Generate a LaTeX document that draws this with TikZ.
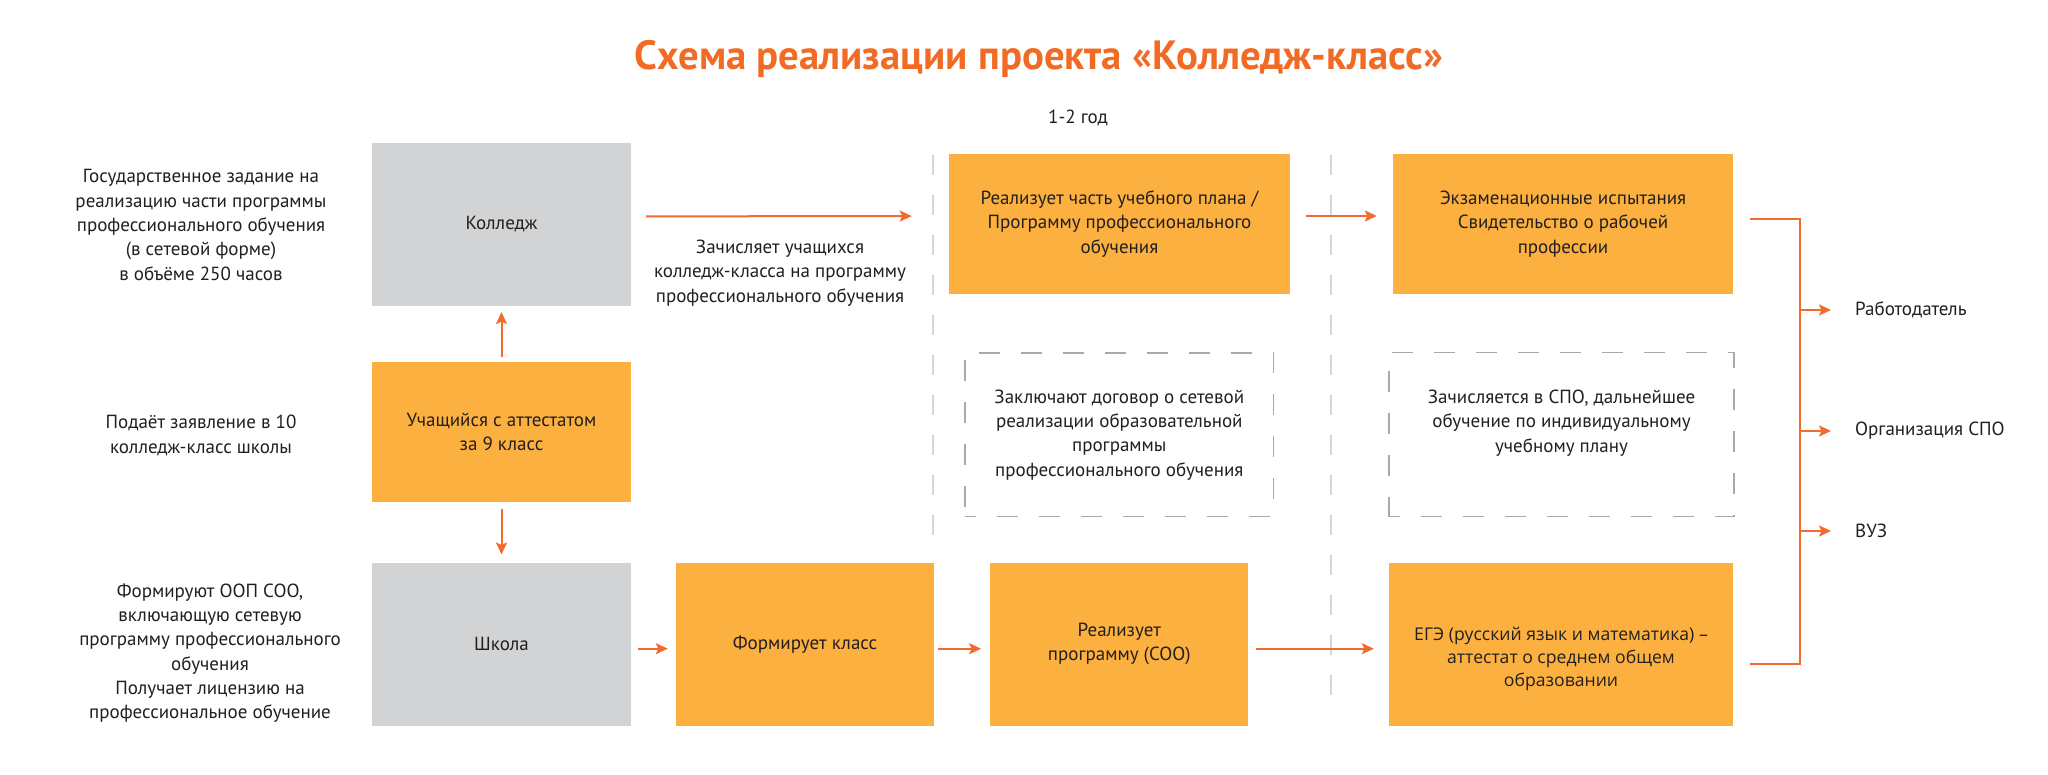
\documentclass[tikz,border=0pt]{standalone}
\usepackage{fontspec}
\setmainfont{PT Sans}
\newfontfamily\egefont{Open Sans}
\usetikzlibrary{arrows.meta}
\definecolor{cnaranja}{HTML}{FBB040}
\definecolor{cgris}{HTML}{D1D3D4}
\definecolor{cflecha}{HTML}{F26B2E}
\definecolor{ctitulo}{HTML}{F26B24}
\definecolor{cborde}{HTML}{A7A9AC}
\definecolor{csep}{HTML}{D6D7D9}
\definecolor{ctexto}{HTML}{231F20}
\begin{document}
\begin{tikzpicture}[x=1pt,y=-1pt,
    txt/.style={font=\fontsize{19}{24.3}\selectfont, align=center, text=ctexto, inner sep=0pt},
    caja/.style={txt, minimum width=259pt, minimum height=163pt},
    gris/.style={caja, fill=cgris},
    naranja/.style={caja, fill=cnaranja},
    punteada/.style={txt, draw=cborde, line width=1.5pt, dash pattern=on 21pt off 21pt, dash phase=10pt},
    flecha/.style={draw=cflecha, line width=2pt, -{Stealth[length=12pt,width=11pt,inset=2.5pt]}},
    linea/.style={draw=cflecha, line width=2pt},
    sep/.style={draw=csep, line width=1.3pt, dash pattern=on 20pt off 20pt}]
    \fill[white] (0,0) rectangle (2048,775);
    \useasboundingbox (0,0) rectangle (2048,775);

    \node[font=\fontsize{40.8}{48}\selectfont\bfseries, text=ctitulo, inner sep=0pt] (tit) at (1039,59) {Схема реализации проекта «Колледж-класс»};
    \node[txt] (god) at (1078,118) {1-2 год};

    \draw[sep] (933,155) -- (933,543);
    \draw[sep] (1331,155) -- (1331,705);

    \node[txt] (Gos) at (201,225) {Государственное задание на\\реализацию части программы\\профессионального обучения\\(в сетевой форме)\\в объёме 250 часов};
    \node[txt] (Pod) at (201,435.5) {Подаёт заявление в 10\\колледж-класс школы};
    \node[txt] (For) at (210,653) {Формируют ООП СОО,\\включающую сетевую\\программу профессионального\\обучения\\Получает лицензию на\\профессиональное обучение};

    \node[gris] (Kol) at (501.5,224.4) {Колледж};
    \node[naranja, minimum height=140pt] (Uch) at (501.5,432) {Учащийся с аттестатом\\за 9 класс};
    \node[gris] (Shk) at (501.5,644.2) {Школа};
    \node[naranja, minimum width=258pt] (Form) at (805,644.2) {Формирует класс};
    \node[naranja, minimum width=258pt] (RealS) at (1119.3,644.2) {Реализует\\программу (СОО)};
    \node[naranja, minimum width=344pt] (EGE) at (1561,644.2) {};
    \node[txt, font=\egefont\fontsize{17.6}{22.6}\selectfont] (EGEt) at (1561,659) {ЕГЭ (русский язык и математика) –\\аттестат о среднем общем\\образовании};

    \node[txt] (Zach) at (780,273) {Зачисляет учащихся\\колледж-класса на программу\\профессионального обучения};
    \node[naranja, minimum width=341pt, minimum height=140pt] (RealP) at (1119.5,224) {Реализует часть учебного плана /\\Программу профессионального\\обучения};
    \node[naranja, minimum width=340pt, minimum height=140pt] (Exam) at (1563,224) {Экзаменационные испытания\\Свидетельство о рабочей\\профессии};

    \node[punteada, minimum width=308.6pt, minimum height=163.7pt] (Dog) at (1119.3,434.8) {Заключают договор о сетевой\\реализации образовательной\\программы\\профессионального обучения};
    \node[punteada, minimum width=345pt, minimum height=164pt] (SPO) at (1561.5,434.7) {};
    \node[txt] (SPOt) at (1561.5,423) {Зачисляется в СПО, дальнейшее\\обучение по индивидуальному\\учебному плану};

    \node[txt, anchor=west] (Rab) at (1855,310) {Работодатель};
    \node[txt, anchor=west] (Org) at (1855,431) {Организация СПО};
    \node[txt, anchor=west] (VUZ) at (1855,531) {ВУЗ};

    \draw[flecha, shorten <=15pt, shorten >=37pt] ([yshift=8pt]Kol.east) -- ([yshift=8pt]RealP.west);
    \draw[flecha, shorten <=16pt, shorten >=16pt] ([yshift=8pt]RealP.east) -- ([yshift=8pt]Exam.west);
    \draw[flecha, shorten <=5pt, shorten >=6pt] (Uch.north) -- (Kol.south);
    \draw[flecha, shorten <=7pt, shorten >=8pt] (Uch.south) -- (Shk.north);
    \draw[flecha, shorten <=7pt, shorten >=8pt] ([yshift=-4.5pt]Shk.east) -- ([yshift=-4.5pt]Form.west);
    \draw[flecha, shorten <=4pt, shorten >=9pt] ([yshift=-4.5pt]Form.east) -- ([yshift=-4.5pt]RealS.west);
    \draw[flecha, shorten <=7pt, shorten >=15pt] ([yshift=-4.5pt]RealS.east) -- ([yshift=-4.5pt]EGE.west);

    \coordinate (b1) at (1800,219);
    \coordinate (b2) at (1800,664);
    \draw[linea, shorten <=17pt, shorten >=17pt] ([yshift=5pt]Exam.east) -- (b1) -- (b2) -- ([yshift=-19.8pt]EGE.east);
    \draw[flecha, shorten >=24pt] (b1 |- Rab.west) -- (Rab.west);
    \draw[flecha, shorten >=24pt] (b1 |- Org.west) -- (Org.west);
    \draw[flecha, shorten >=24pt] (b1 |- VUZ.west) -- (VUZ.west);
\end{tikzpicture}
\end{document}
